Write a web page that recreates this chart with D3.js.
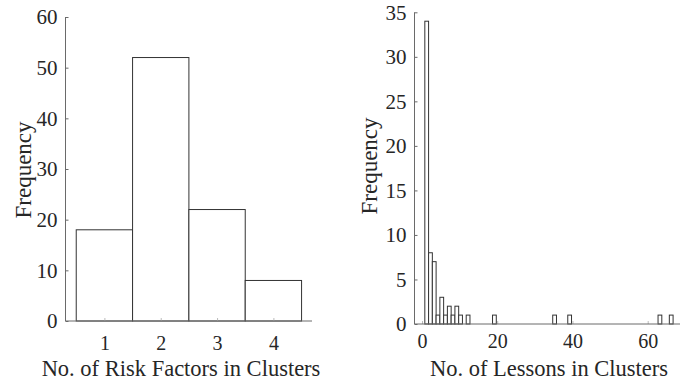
<!DOCTYPE html>
<html>
<head>
<meta charset="utf-8">
<script src="https://cdn.jsdelivr.net/npm/d3@7/dist/d3.min.js"></script>
<style>
  html, body { margin: 0; padding: 0; background: #fff; }
  svg { display: block; }
  svg text { font-family: "Liberation Serif", "DejaVu Serif", serif; fill: #262626; }
</style>
</head>
<body>
<svg id="chart" width="680" height="383"></svg>
<script>
// Left histogram: number of risk factors per cluster
const riskFactors = [1, 2, 3, 4];
const riskCounts = [18, 52, 22, 8];
const riskYTicks = [0, 10, 20, 30, 40, 50, 60];

// Right histogram: number of lessons per cluster (unit-width bins)
const lessonValues = [1, 2, 3, 4, 5, 6, 7, 8, 9, 10, 12, 19, 35, 39, 63, 66];
const lessonCounts = [34, 8, 7, 1, 3, 1, 2, 1, 2, 1, 1, 1, 1, 1, 1, 1];
const lessonXTicks = [0, 20, 40, 60];
const lessonYTicks = [0, 5, 10, 15, 20, 25, 30, 35];

const svg = d3.select("#chart");
const axisColor = "#6a6a6a";
const barColor = "#333";
const serif = "Liberation Serif";

function drawPanel(cfg) {
  const g = svg.append("g");
  const x = cfg.x, y = cfg.y;

  // bars
  g.selectAll("rect.bar").data(cfg.bins).join("rect")
    .attr("class", "bar")
    .attr("x", d => x(d.x0))
    .attr("width", d => x(d.x1) - x(d.x0))
    .attr("y", d => y(d.count))
    .attr("height", d => y(0) - y(d.count))
    .attr("fill", "#fff")
    .attr("stroke", barColor)
    .attr("stroke-width", 1);

  // inward-pointing ticks, then axis lines on top
  const yAxis = d3.axisLeft(y).tickValues(cfg.yTicks).tickSize(-3).tickPadding(8);
  const gy = g.append("g").attr("transform", `translate(${cfg.left},0)`).call(yAxis);
  gy.attr("font-family", serif);
  gy.select(".domain").remove();
  gy.selectAll(".tick line").attr("stroke", axisColor);
  gy.selectAll(".tick text").attr("font-size", 21).attr("fill", "#262626");

  const xAxis = d3.axisBottom(x).tickValues(cfg.xTicks).tickSize(-3)
    .tickPadding(cfg.xPad).tickFormat(d3.format("d"));
  const gx = g.append("g").attr("transform", `translate(0,${y(0)})`).call(xAxis);
  gx.attr("font-family", serif);
  gx.select(".domain").remove();
  gx.selectAll(".tick line").attr("stroke", "#bbb");
  gx.selectAll(".tick text").attr("font-size", 20).attr("fill", "#262626");

  g.append("line")
    .attr("x1", cfg.left).attr("x2", cfg.left)
    .attr("y1", cfg.top).attr("y2", y(0))
    .attr("stroke", axisColor).attr("stroke-width", 1);
  g.append("line")
    .attr("x1", cfg.left).attr("x2", cfg.right)
    .attr("y1", y(0)).attr("y2", y(0))
    .attr("stroke", axisColor).attr("stroke-width", 1);

  g.append("text")
    .attr("x", cfg.xTitleX).attr("y", 376)
    .attr("text-anchor", "middle")
    .attr("font-family", serif)
    .attr("font-size", 22.5)
    .text(cfg.xTitle);
  g.append("text")
    .attr("transform", `translate(${cfg.yTitleX},${cfg.yTitleY}) rotate(-90)`)
    .attr("text-anchor", "middle")
    .attr("font-family", serif)
    .attr("font-size", 23)
    .text("Frequency");
}

// left panel
{
  const x = d3.scaleLinear().domain([1, 4]).range([104.4, 273.4]);
  const y = d3.scaleLinear().domain([0, 60]).range([321, 17]);
  const bins = riskFactors.map((v, i) => ({ x0: v - 0.5, x1: v + 0.5, count: riskCounts[i] }));
  drawPanel({
    x, y, bins,
    xTicks: riskFactors, yTicks: riskYTicks, xPad: 15,
    left: 65.5, right: 312, top: 17,
    xTitle: "No. of Risk Factors in Clusters", xTitleX: 181,
    yTitleX: 31, yTitleY: 170
  });
}

// right panel
{
  const x = d3.scaleLinear().domain([0, 60]).range([422, 647.7]);
  const y = d3.scaleLinear().domain([0, 35]).range([324, 12.3]);
  const bins = lessonValues.map((v, i) => ({ x0: v - 0.25, x1: v + 0.75, count: lessonCounts[i] }));
  drawPanel({
    x, y, bins,
    xTicks: lessonXTicks, yTicks: lessonYTicks, xPad: 10,
    left: 414.5, right: 680, top: 12.3,
    xTitle: "No. of Lessons in Clusters", xTitleX: 549,
    yTitleX: 377, yTitleY: 166
  });
}
</script>
</body>
</html>
